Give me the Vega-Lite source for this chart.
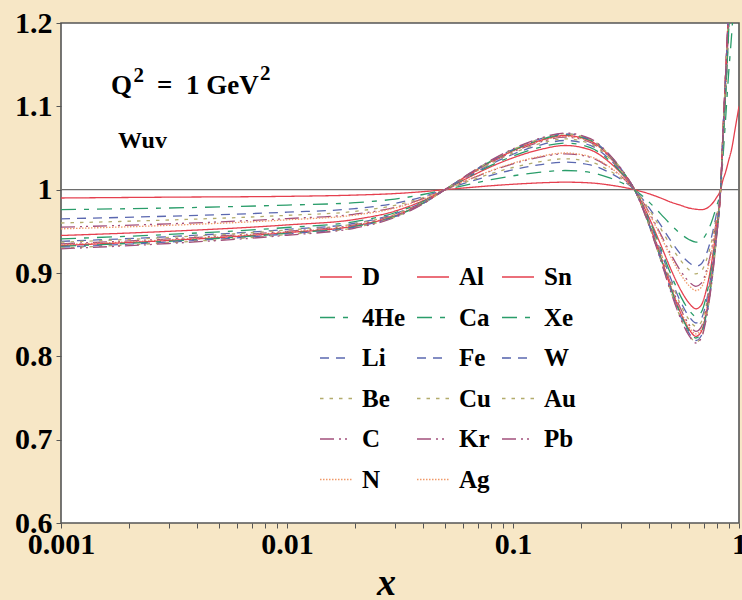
{
  "$schema": "https://vega.github.io/schema/vega-lite/v6.json",
  "width": 678,
  "height": 500,
  "autosize": {"type": "none"},
  "padding": {"left": 61, "top": 23, "right": 3, "bottom": 77},
  "background": "#F7E7C6",
  "config": {
    "view": {"fill": "white", "stroke": "#555555", "strokeWidth": 1.6},
    "legend": {
      "symbolType": "stroke",
      "symbolSize": 1024,
      "symbolStrokeWidth": 1.6,
      "labelFont": "Times New Roman, DejaVu Serif",
      "labelFontSize": 25,
      "labelFontWeight": "bold",
      "labelColor": "black",
      "labelOffset": 9,
      "rowPadding": 10.5,
      "columnPadding": 7,
      "padding": 0
    }
  },
  "datasets": {
    "curves": [
      {"n":"D","x":0.001,"y":0.990},{"n":"D","x":0.003,"y":0.991},{"n":"D","x":0.01,"y":0.992},{"n":"D","x":0.02,"y":0.9935},{"n":"D","x":0.03,"y":0.9953},{"n":"D","x":0.04,"y":0.9976},{"n":"D","x":0.05,"y":1},
      {"n":"D","x":0.065,"y":1.0027},{"n":"D","x":0.08,"y":1.0047},{"n":"D","x":0.1,"y":1.0065},{"n":"D","x":0.13,"y":1.0081},{"n":"D","x":0.17,"y":1.009},{"n":"D","x":0.22,"y":1.0081},{"n":"D","x":0.27,"y":1.0054},{"n":"D","x":0.31,"y":1.0027},{"n":"D","x":0.345,"y":1},
      {"n":"D","x":0.39,"y":0.996},{"n":"D","x":0.45,"y":0.990},{"n":"D","x":0.5,"y":0.985},{"n":"D","x":0.555,"y":0.981},{"n":"D","x":0.6,"y":0.978},{"n":"D","x":0.645,"y":0.9765},{"n":"D","x":0.68,"y":0.976},{"n":"D","x":0.717,"y":0.9775},{"n":"D","x":0.754,"y":0.982},{"n":"D","x":0.793,"y":0.990},{"n":"D","x":0.829,"y":1},
      {"n":"D","x":0.85,"y":1.012},{"n":"D","x":0.87,"y":1.02},{"n":"D","x":0.9,"y":1.035},{"n":"D","x":0.93,"y":1.05},{"n":"D","x":0.96,"y":1.072},{"n":"D","x":1.0,"y":1.10},

      {"n":"4He","x":0.001,"y":0.976},{"n":"4He","x":0.003,"y":0.978},{"n":"4He","x":0.01,"y":0.9815},{"n":"4He","x":0.02,"y":0.9844},{"n":"4He","x":0.03,"y":0.9887},{"n":"4He","x":0.04,"y":0.9942},{"n":"4He","x":0.05,"y":1},
      {"n":"4He","x":0.065,"y":1.0069},{"n":"4He","x":0.08,"y":1.012},{"n":"4He","x":0.1,"y":1.0166},{"n":"4He","x":0.13,"y":1.0207},{"n":"4He","x":0.17,"y":1.023},{"n":"4He","x":0.22,"y":1.0207},{"n":"4He","x":0.27,"y":1.0138},{"n":"4He","x":0.31,"y":1.0069},{"n":"4He","x":0.345,"y":1},
      {"n":"4He","x":0.39,"y":0.988},{"n":"4He","x":0.45,"y":0.971},{"n":"4He","x":0.5,"y":0.9578},{"n":"4He","x":0.555,"y":0.9465},{"n":"4He","x":0.6,"y":0.9402},{"n":"4He","x":0.645,"y":0.937},{"n":"4He","x":0.68,"y":0.9389},{"n":"4He","x":0.717,"y":0.9471},{"n":"4He","x":0.754,"y":0.9603},{"n":"4He","x":0.793,"y":0.9792},{"n":"4He","x":0.829,"y":1},
      {"n":"4He","x":0.85,"y":1.04},{"n":"4He","x":0.87,"y":1.08},{"n":"4He","x":0.9,"y":1.14},{"n":"4He","x":0.93,"y":1.19},{"n":"4He","x":0.96,"y":1.25},

      {"n":"Li","x":0.001,"y":0.965},{"n":"Li","x":0.003,"y":0.9682},{"n":"Li","x":0.01,"y":0.973},{"n":"Li","x":0.02,"y":0.9773},{"n":"Li","x":0.03,"y":0.9836},{"n":"Li","x":0.04,"y":0.9916},{"n":"Li","x":0.05,"y":1},
      {"n":"Li","x":0.065,"y":1.0099},{"n":"Li","x":0.08,"y":1.0172},{"n":"Li","x":0.1,"y":1.0238},{"n":"Li","x":0.13,"y":1.0297},{"n":"Li","x":0.17,"y":1.033},{"n":"Li","x":0.22,"y":1.0297},{"n":"Li","x":0.27,"y":1.0198},{"n":"Li","x":0.31,"y":1.0099},{"n":"Li","x":0.345,"y":1},
      {"n":"Li","x":0.39,"y":0.9825},{"n":"Li","x":0.45,"y":0.9577},{"n":"Li","x":0.5,"y":0.9384},{"n":"Li","x":0.555,"y":0.9218},{"n":"Li","x":0.6,"y":0.9126},{"n":"Li","x":0.645,"y":0.908},{"n":"Li","x":0.68,"y":0.9108},{"n":"Li","x":0.717,"y":0.9227},{"n":"Li","x":0.754,"y":0.942},{"n":"Li","x":0.793,"y":0.9696},{"n":"Li","x":0.829,"y":1},
      {"n":"Li","x":0.85,"y":1.06},{"n":"Li","x":0.87,"y":1.11},{"n":"Li","x":0.9,"y":1.20},{"n":"Li","x":0.93,"y":1.29},

      {"n":"Be","x":0.001,"y":0.960},{"n":"Be","x":0.003,"y":0.9636},{"n":"Be","x":0.01,"y":0.9692},{"n":"Be","x":0.02,"y":0.974},{"n":"Be","x":0.03,"y":0.9812},{"n":"Be","x":0.04,"y":0.9904},{"n":"Be","x":0.05,"y":1},
      {"n":"Be","x":0.065,"y":1.0111},{"n":"Be","x":0.08,"y":1.0192},{"n":"Be","x":0.1,"y":1.0266},{"n":"Be","x":0.13,"y":1.0333},{"n":"Be","x":0.17,"y":1.037},{"n":"Be","x":0.22,"y":1.0333},{"n":"Be","x":0.27,"y":1.0222},{"n":"Be","x":0.31,"y":1.0111},{"n":"Be","x":0.345,"y":1},
      {"n":"Be","x":0.39,"y":0.9808},{"n":"Be","x":0.45,"y":0.9535},{"n":"Be","x":0.5,"y":0.9323},{"n":"Be","x":0.555,"y":0.9142},{"n":"Be","x":0.6,"y":0.904},{"n":"Be","x":0.645,"y":0.899},{"n":"Be","x":0.68,"y":0.902},{"n":"Be","x":0.717,"y":0.9152},{"n":"Be","x":0.754,"y":0.9364},{"n":"Be","x":0.793,"y":0.9667},{"n":"Be","x":0.829,"y":1},
      {"n":"Be","x":0.85,"y":1.06},{"n":"Be","x":0.87,"y":1.11},{"n":"Be","x":0.9,"y":1.20},{"n":"Be","x":0.93,"y":1.29},

      {"n":"C","x":0.001,"y":0.955},{"n":"C","x":0.003,"y":0.959},{"n":"C","x":0.01,"y":0.9653},{"n":"C","x":0.02,"y":0.9707},{"n":"C","x":0.03,"y":0.9788},{"n":"C","x":0.04,"y":0.9892},{"n":"C","x":0.05,"y":1},
      {"n":"C","x":0.065,"y":1.0129},{"n":"C","x":0.08,"y":1.0224},{"n":"C","x":0.1,"y":1.031},{"n":"C","x":0.13,"y":1.0387},{"n":"C","x":0.17,"y":1.043},{"n":"C","x":0.22,"y":1.0387},{"n":"C","x":0.27,"y":1.0258},{"n":"C","x":0.31,"y":1.0129},{"n":"C","x":0.345,"y":1},
      {"n":"C","x":0.39,"y":0.978},{"n":"C","x":0.45,"y":0.9466},{"n":"C","x":0.5,"y":0.9223},{"n":"C","x":0.555,"y":0.9014},{"n":"C","x":0.6,"y":0.8898},{"n":"C","x":0.645,"y":0.884},{"n":"C","x":0.68,"y":0.8875},{"n":"C","x":0.717,"y":0.9026},{"n":"C","x":0.754,"y":0.9269},{"n":"C","x":0.793,"y":0.9617},{"n":"C","x":0.829,"y":1},
      {"n":"C","x":0.85,"y":1.06},{"n":"C","x":0.87,"y":1.11},{"n":"C","x":0.9,"y":1.20},{"n":"C","x":0.93,"y":1.29},

      {"n":"N","x":0.001,"y":0.953},{"n":"N","x":0.003,"y":0.9572},{"n":"N","x":0.01,"y":0.9638},{"n":"N","x":0.02,"y":0.9695},{"n":"N","x":0.03,"y":0.9779},{"n":"N","x":0.04,"y":0.9887},{"n":"N","x":0.05,"y":1},
      {"n":"N","x":0.065,"y":1.0132},{"n":"N","x":0.08,"y":1.0229},{"n":"N","x":0.1,"y":1.0317},{"n":"N","x":0.13,"y":1.0396},{"n":"N","x":0.17,"y":1.044},{"n":"N","x":0.22,"y":1.0396},{"n":"N","x":0.27,"y":1.0264},{"n":"N","x":0.31,"y":1.0132},{"n":"N","x":0.345,"y":1},
      {"n":"N","x":0.39,"y":0.977},{"n":"N","x":0.45,"y":0.9443},{"n":"N","x":0.5,"y":0.9189},{"n":"N","x":0.555,"y":0.8972},{"n":"N","x":0.6,"y":0.8851},{"n":"N","x":0.645,"y":0.879},{"n":"N","x":0.68,"y":0.8826},{"n":"N","x":0.717,"y":0.8984},{"n":"N","x":0.754,"y":0.9238},{"n":"N","x":0.793,"y":0.9601},{"n":"N","x":0.829,"y":1},
      {"n":"N","x":0.85,"y":1.06},{"n":"N","x":0.87,"y":1.11},{"n":"N","x":0.9,"y":1.20},{"n":"N","x":0.93,"y":1.29},

      {"n":"Al","x":0.001,"y":0.945},{"n":"Al","x":0.003,"y":0.95},{"n":"Al","x":0.01,"y":0.9577},{"n":"Al","x":0.02,"y":0.9643},{"n":"Al","x":0.03,"y":0.9742},{"n":"Al","x":0.04,"y":0.9868},{"n":"Al","x":0.05,"y":1},
      {"n":"Al","x":0.065,"y":1.0159},{"n":"Al","x":0.08,"y":1.0276},{"n":"Al","x":0.1,"y":1.0382},{"n":"Al","x":0.13,"y":1.0477},{"n":"Al","x":0.17,"y":1.053},{"n":"Al","x":0.22,"y":1.0477},{"n":"Al","x":0.27,"y":1.0318},{"n":"Al","x":0.31,"y":1.0159},{"n":"Al","x":0.345,"y":1},
      {"n":"Al","x":0.39,"y":0.9728},{"n":"Al","x":0.45,"y":0.9342},{"n":"Al","x":0.5,"y":0.9042},{"n":"Al","x":0.555,"y":0.8785},{"n":"Al","x":0.6,"y":0.8642},{"n":"Al","x":0.645,"y":0.857},{"n":"Al","x":0.68,"y":0.8613},{"n":"Al","x":0.717,"y":0.8799},{"n":"Al","x":0.754,"y":0.9099},{"n":"Al","x":0.793,"y":0.9528},{"n":"Al","x":0.829,"y":1},
      {"n":"Al","x":0.85,"y":1.07},{"n":"Al","x":0.87,"y":1.13},{"n":"Al","x":0.9,"y":1.22},{"n":"Al","x":0.93,"y":1.32},

      {"n":"Ca","x":0.001,"y":0.941},{"n":"Ca","x":0.003,"y":0.9463},{"n":"Ca","x":0.01,"y":0.9546},{"n":"Ca","x":0.02,"y":0.9617},{"n":"Ca","x":0.03,"y":0.9723},{"n":"Ca","x":0.04,"y":0.9858},{"n":"Ca","x":0.05,"y":1},
      {"n":"Ca","x":0.065,"y":1.0168},{"n":"Ca","x":0.08,"y":1.0291},{"n":"Ca","x":0.1,"y":1.0403},{"n":"Ca","x":0.13,"y":1.0504},{"n":"Ca","x":0.17,"y":1.056},{"n":"Ca","x":0.22,"y":1.0504},{"n":"Ca","x":0.27,"y":1.0336},{"n":"Ca","x":0.31,"y":1.0168},{"n":"Ca","x":0.345,"y":1},
      {"n":"Ca","x":0.39,"y":0.9711},{"n":"Ca","x":0.45,"y":0.9301},{"n":"Ca","x":0.5,"y":0.8982},{"n":"Ca","x":0.555,"y":0.8708},{"n":"Ca","x":0.6,"y":0.8556},{"n":"Ca","x":0.645,"y":0.848},{"n":"Ca","x":0.68,"y":0.8526},{"n":"Ca","x":0.717,"y":0.8723},{"n":"Ca","x":0.754,"y":0.9042},{"n":"Ca","x":0.793,"y":0.9498},{"n":"Ca","x":0.829,"y":1},
      {"n":"Ca","x":0.85,"y":1.06},{"n":"Ca","x":0.87,"y":1.11},{"n":"Ca","x":0.9,"y":1.19},{"n":"Ca","x":0.93,"y":1.28},

      {"n":"Fe","x":0.001,"y":0.938},{"n":"Fe","x":0.003,"y":0.9436},{"n":"Fe","x":0.01,"y":0.9523},{"n":"Fe","x":0.02,"y":0.9597},{"n":"Fe","x":0.03,"y":0.9709},{"n":"Fe","x":0.04,"y":0.9851},{"n":"Fe","x":0.05,"y":1},
      {"n":"Fe","x":0.065,"y":1.0177},{"n":"Fe","x":0.08,"y":1.0307},{"n":"Fe","x":0.1,"y":1.0425},{"n":"Fe","x":0.13,"y":1.0531},{"n":"Fe","x":0.17,"y":1.059},{"n":"Fe","x":0.22,"y":1.0531},{"n":"Fe","x":0.27,"y":1.0354},{"n":"Fe","x":0.31,"y":1.0177},{"n":"Fe","x":0.345,"y":1},
      {"n":"Fe","x":0.39,"y":0.9696},{"n":"Fe","x":0.45,"y":0.9264},{"n":"Fe","x":0.5,"y":0.8928},{"n":"Fe","x":0.555,"y":0.864},{"n":"Fe","x":0.6,"y":0.848},{"n":"Fe","x":0.645,"y":0.840},{"n":"Fe","x":0.68,"y":0.8448},{"n":"Fe","x":0.717,"y":0.8656},{"n":"Fe","x":0.754,"y":0.8992},{"n":"Fe","x":0.793,"y":0.9472},{"n":"Fe","x":0.829,"y":1},
      {"n":"Fe","x":0.85,"y":1.07},{"n":"Fe","x":0.87,"y":1.13},{"n":"Fe","x":0.9,"y":1.22},{"n":"Fe","x":0.93,"y":1.32},

      {"n":"Cu","x":0.001,"y":0.937},{"n":"Cu","x":0.003,"y":0.9427},{"n":"Cu","x":0.01,"y":0.9515},{"n":"Cu","x":0.02,"y":0.9591},{"n":"Cu","x":0.03,"y":0.9704},{"n":"Cu","x":0.04,"y":0.9849},{"n":"Cu","x":0.05,"y":1},
      {"n":"Cu","x":0.065,"y":1.0183},{"n":"Cu","x":0.08,"y":1.0317},{"n":"Cu","x":0.1,"y":1.0439},{"n":"Cu","x":0.13,"y":1.0549},{"n":"Cu","x":0.17,"y":1.061},{"n":"Cu","x":0.22,"y":1.0549},{"n":"Cu","x":0.27,"y":1.0366},{"n":"Cu","x":0.31,"y":1.0183},{"n":"Cu","x":0.345,"y":1},
      {"n":"Cu","x":0.39,"y":0.9688},{"n":"Cu","x":0.45,"y":0.9246},{"n":"Cu","x":0.5,"y":0.8901},{"n":"Cu","x":0.555,"y":0.8606},{"n":"Cu","x":0.6,"y":0.8442},{"n":"Cu","x":0.645,"y":0.836},{"n":"Cu","x":0.68,"y":0.8409},{"n":"Cu","x":0.717,"y":0.8622},{"n":"Cu","x":0.754,"y":0.8967},{"n":"Cu","x":0.793,"y":0.9459},{"n":"Cu","x":0.829,"y":1},
      {"n":"Cu","x":0.85,"y":1.07},{"n":"Cu","x":0.87,"y":1.13},{"n":"Cu","x":0.9,"y":1.22},{"n":"Cu","x":0.93,"y":1.32},

      {"n":"Kr","x":0.001,"y":0.935},{"n":"Kr","x":0.003,"y":0.9409},{"n":"Kr","x":0.01,"y":0.95},{"n":"Kr","x":0.02,"y":0.9578},{"n":"Kr","x":0.03,"y":0.9695},{"n":"Kr","x":0.04,"y":0.9844},{"n":"Kr","x":0.05,"y":1},
      {"n":"Kr","x":0.065,"y":1.0189},{"n":"Kr","x":0.08,"y":1.0328},{"n":"Kr","x":0.1,"y":1.0454},{"n":"Kr","x":0.13,"y":1.0567},{"n":"Kr","x":0.17,"y":1.063},{"n":"Kr","x":0.22,"y":1.0567},{"n":"Kr","x":0.27,"y":1.0378},{"n":"Kr","x":0.31,"y":1.0189},{"n":"Kr","x":0.345,"y":1},
      {"n":"Kr","x":0.39,"y":0.9677},{"n":"Kr","x":0.45,"y":0.9218},{"n":"Kr","x":0.5,"y":0.8861},{"n":"Kr","x":0.555,"y":0.8555},{"n":"Kr","x":0.6,"y":0.8385},{"n":"Kr","x":0.645,"y":0.830},{"n":"Kr","x":0.68,"y":0.8351},{"n":"Kr","x":0.717,"y":0.8572},{"n":"Kr","x":0.754,"y":0.8929},{"n":"Kr","x":0.793,"y":0.9439},{"n":"Kr","x":0.829,"y":1},
      {"n":"Kr","x":0.85,"y":1.07},{"n":"Kr","x":0.87,"y":1.13},{"n":"Kr","x":0.9,"y":1.22},{"n":"Kr","x":0.93,"y":1.32},

      {"n":"Ag","x":0.001,"y":0.934},{"n":"Ag","x":0.003,"y":0.9399},{"n":"Ag","x":0.01,"y":0.9492},{"n":"Ag","x":0.02,"y":0.9571},{"n":"Ag","x":0.03,"y":0.969},{"n":"Ag","x":0.04,"y":0.9842},{"n":"Ag","x":0.05,"y":1},
      {"n":"Ag","x":0.065,"y":1.0192},{"n":"Ag","x":0.08,"y":1.0333},{"n":"Ag","x":0.1,"y":1.0461},{"n":"Ag","x":0.13,"y":1.0576},{"n":"Ag","x":0.17,"y":1.064},{"n":"Ag","x":0.22,"y":1.0576},{"n":"Ag","x":0.27,"y":1.0384},{"n":"Ag","x":0.31,"y":1.0192},{"n":"Ag","x":0.345,"y":1},
      {"n":"Ag","x":0.39,"y":0.9671},{"n":"Ag","x":0.45,"y":0.9204},{"n":"Ag","x":0.5,"y":0.8841},{"n":"Ag","x":0.555,"y":0.853},{"n":"Ag","x":0.6,"y":0.8357},{"n":"Ag","x":0.645,"y":0.827},{"n":"Ag","x":0.68,"y":0.8322},{"n":"Ag","x":0.717,"y":0.8547},{"n":"Ag","x":0.754,"y":0.891},{"n":"Ag","x":0.793,"y":0.9429},{"n":"Ag","x":0.829,"y":1},
      {"n":"Ag","x":0.85,"y":1.07},{"n":"Ag","x":0.87,"y":1.13},{"n":"Ag","x":0.9,"y":1.22},{"n":"Ag","x":0.93,"y":1.32},

      {"n":"Sn","x":0.001,"y":0.933},{"n":"Sn","x":0.003,"y":0.939},{"n":"Sn","x":0.01,"y":0.9484},{"n":"Sn","x":0.02,"y":0.9565},{"n":"Sn","x":0.03,"y":0.9685},{"n":"Sn","x":0.04,"y":0.9839},{"n":"Sn","x":0.05,"y":1},
      {"n":"Sn","x":0.065,"y":1.0195},{"n":"Sn","x":0.08,"y":1.0338},{"n":"Sn","x":0.1,"y":1.0468},{"n":"Sn","x":0.13,"y":1.0585},{"n":"Sn","x":0.17,"y":1.065},{"n":"Sn","x":0.22,"y":1.0585},{"n":"Sn","x":0.27,"y":1.039},{"n":"Sn","x":0.31,"y":1.0195},{"n":"Sn","x":0.345,"y":1},
      {"n":"Sn","x":0.39,"y":0.9666},{"n":"Sn","x":0.45,"y":0.919},{"n":"Sn","x":0.5,"y":0.8821},{"n":"Sn","x":0.555,"y":0.8504},{"n":"Sn","x":0.6,"y":0.8328},{"n":"Sn","x":0.645,"y":0.824},{"n":"Sn","x":0.68,"y":0.8293},{"n":"Sn","x":0.717,"y":0.8522},{"n":"Sn","x":0.754,"y":0.8891},{"n":"Sn","x":0.793,"y":0.9419},{"n":"Sn","x":0.829,"y":1},
      {"n":"Sn","x":0.85,"y":1.07},{"n":"Sn","x":0.87,"y":1.13},{"n":"Sn","x":0.9,"y":1.22},{"n":"Sn","x":0.93,"y":1.32},

      {"n":"Xe","x":0.001,"y":0.932},{"n":"Xe","x":0.003,"y":0.9381},{"n":"Xe","x":0.01,"y":0.9476},{"n":"Xe","x":0.02,"y":0.9558},{"n":"Xe","x":0.03,"y":0.968},{"n":"Xe","x":0.04,"y":0.9837},{"n":"Xe","x":0.05,"y":1},
      {"n":"Xe","x":0.065,"y":1.0198},{"n":"Xe","x":0.08,"y":1.0343},{"n":"Xe","x":0.1,"y":1.0475},{"n":"Xe","x":0.13,"y":1.0594},{"n":"Xe","x":0.17,"y":1.066},{"n":"Xe","x":0.22,"y":1.0594},{"n":"Xe","x":0.27,"y":1.0396},{"n":"Xe","x":0.31,"y":1.0198},{"n":"Xe","x":0.345,"y":1},
      {"n":"Xe","x":0.39,"y":0.9662},{"n":"Xe","x":0.45,"y":0.9181},{"n":"Xe","x":0.5,"y":0.8807},{"n":"Xe","x":0.555,"y":0.8487},{"n":"Xe","x":0.6,"y":0.8309},{"n":"Xe","x":0.645,"y":0.822},{"n":"Xe","x":0.68,"y":0.8273},{"n":"Xe","x":0.717,"y":0.8505},{"n":"Xe","x":0.754,"y":0.8879},{"n":"Xe","x":0.793,"y":0.9413},{"n":"Xe","x":0.829,"y":1},
      {"n":"Xe","x":0.85,"y":1.06},{"n":"Xe","x":0.87,"y":1.11},{"n":"Xe","x":0.9,"y":1.19},{"n":"Xe","x":0.93,"y":1.28},

      {"n":"W","x":0.001,"y":0.931},{"n":"W","x":0.003,"y":0.9372},{"n":"W","x":0.01,"y":0.9469},{"n":"W","x":0.02,"y":0.9552},{"n":"W","x":0.03,"y":0.9676},{"n":"W","x":0.04,"y":0.9834},{"n":"W","x":0.05,"y":1},
      {"n":"W","x":0.065,"y":1.0201},{"n":"W","x":0.08,"y":1.0348},{"n":"W","x":0.1,"y":1.0482},{"n":"W","x":0.13,"y":1.0603},{"n":"W","x":0.17,"y":1.067},{"n":"W","x":0.22,"y":1.0603},{"n":"W","x":0.27,"y":1.0402},{"n":"W","x":0.31,"y":1.0201},{"n":"W","x":0.345,"y":1},
      {"n":"W","x":0.39,"y":0.9656},{"n":"W","x":0.45,"y":0.9167},{"n":"W","x":0.5,"y":0.8787},{"n":"W","x":0.555,"y":0.8462},{"n":"W","x":0.6,"y":0.8281},{"n":"W","x":0.645,"y":0.819},{"n":"W","x":0.68,"y":0.8244},{"n":"W","x":0.717,"y":0.848},{"n":"W","x":0.754,"y":0.886},{"n":"W","x":0.793,"y":0.9403},{"n":"W","x":0.829,"y":1},
      {"n":"W","x":0.85,"y":1.07},{"n":"W","x":0.87,"y":1.13},{"n":"W","x":0.9,"y":1.22},{"n":"W","x":0.93,"y":1.32},

      {"n":"Au","x":0.001,"y":0.930},{"n":"Au","x":0.003,"y":0.9363},{"n":"Au","x":0.01,"y":0.9461},{"n":"Au","x":0.02,"y":0.9545},{"n":"Au","x":0.03,"y":0.9671},{"n":"Au","x":0.04,"y":0.9832},{"n":"Au","x":0.05,"y":1},
      {"n":"Au","x":0.065,"y":1.0201},{"n":"Au","x":0.08,"y":1.0348},{"n":"Au","x":0.1,"y":1.0482},{"n":"Au","x":0.13,"y":1.0603},{"n":"Au","x":0.17,"y":1.067},{"n":"Au","x":0.22,"y":1.0603},{"n":"Au","x":0.27,"y":1.0402},{"n":"Au","x":0.31,"y":1.0201},{"n":"Au","x":0.345,"y":1},
      {"n":"Au","x":0.39,"y":0.9652},{"n":"Au","x":0.45,"y":0.9158},{"n":"Au","x":0.5,"y":0.8774},{"n":"Au","x":0.555,"y":0.8445},{"n":"Au","x":0.6,"y":0.8262},{"n":"Au","x":0.645,"y":0.817},{"n":"Au","x":0.68,"y":0.8225},{"n":"Au","x":0.717,"y":0.8463},{"n":"Au","x":0.754,"y":0.8847},{"n":"Au","x":0.793,"y":0.9396},{"n":"Au","x":0.829,"y":1},
      {"n":"Au","x":0.85,"y":1.07},{"n":"Au","x":0.87,"y":1.13},{"n":"Au","x":0.9,"y":1.22},{"n":"Au","x":0.93,"y":1.32},

      {"n":"Pb","x":0.001,"y":0.929},{"n":"Pb","x":0.003,"y":0.9354},{"n":"Pb","x":0.01,"y":0.9453},{"n":"Pb","x":0.02,"y":0.9539},{"n":"Pb","x":0.03,"y":0.9666},{"n":"Pb","x":0.04,"y":0.983},{"n":"Pb","x":0.05,"y":1},
      {"n":"Pb","x":0.065,"y":1.0204},{"n":"Pb","x":0.08,"y":1.0354},{"n":"Pb","x":0.1,"y":1.049},{"n":"Pb","x":0.13,"y":1.0612},{"n":"Pb","x":0.17,"y":1.068},{"n":"Pb","x":0.22,"y":1.0612},{"n":"Pb","x":0.27,"y":1.0408},{"n":"Pb","x":0.31,"y":1.0204},{"n":"Pb","x":0.345,"y":1},
      {"n":"Pb","x":0.39,"y":0.965},{"n":"Pb","x":0.45,"y":0.9154},{"n":"Pb","x":0.5,"y":0.8767},{"n":"Pb","x":0.555,"y":0.8436},{"n":"Pb","x":0.6,"y":0.8252},{"n":"Pb","x":0.645,"y":0.816},{"n":"Pb","x":0.68,"y":0.8215},{"n":"Pb","x":0.717,"y":0.8454},{"n":"Pb","x":0.754,"y":0.8841},{"n":"Pb","x":0.793,"y":0.9393},{"n":"Pb","x":0.829,"y":1},
      {"n":"Pb","x":0.85,"y":1.07},{"n":"Pb","x":0.87,"y":1.13},{"n":"Pb","x":0.9,"y":1.22},{"n":"Pb","x":0.93,"y":1.32}
    ]
  },
  "encoding": {
    "x": {
      "field": "x",
      "type": "quantitative",
      "scale": {"type": "log", "domain": [0.001, 1], "nice": false},
      "axis": {
        "title": "x",
        "values": [0.001,0.002,0.003,0.004,0.005,0.006,0.007,0.008,0.009,0.01,0.02,0.03,0.04,0.05,0.06,0.07,0.08,0.09,0.1,0.2,0.3,0.4,0.5,0.6,0.7,0.8,0.9,1],
        "format": "~g",
        "labelExpr": "indexof([0.001, 0.01, 0.1, 1], datum.value) >= 0 ? datum.label : ''",
        "labelFont": "Times New Roman, DejaVu Serif",
        "labelFontSize": 30,
        "labelFontWeight": "bold",
        "labelColor": "black",
        "labelOverlap": false,
        "labelFlush": false,
        "labelPadding": 1,
        "tickSize": 5,
        "tickColor": "#555555",
        "domain": false,
        "grid": false,
        "titleFont": "Times New Roman, DejaVu Serif",
        "titleFontSize": 38,
        "titleFontStyle": "italic",
        "titleFontWeight": "bold",
        "titleColor": "black",
        "titleX": 325,
        "titleY": 71,
        "titleAlign": "center",
        "titleBaseline": "alphabetic"
      }
    },
    "y": {
      "field": "y",
      "type": "quantitative",
      "scale": {"domain": [0.6, 1.2], "nice": false, "zero": false},
      "axis": {
        "title": null,
        "values": [0.6, 0.7, 0.8, 0.9, 1, 1.1, 1.2],
        "format": "~g",
        "labelFont": "Times New Roman, DejaVu Serif",
        "labelFontSize": 30,
        "labelFontWeight": "bold",
        "labelColor": "black",
        "labelFlush": false,
        "labelOverlap": false,
        "labelPadding": 4,
        "tickSize": 5,
        "tickColor": "#555555",
        "domain": false,
        "grid": false
      }
    }
  },
  "layer": [
    {
      "data": {"values": [{"x": 0.001, "x2": 1, "y": 1}]},
      "mark": {"type": "rule", "color": "#6e6e6e", "strokeWidth": 1.4},
      "encoding": {"x2": {"field": "x2"}}
    },
    {
      "data": {"name": "curves"},
      "mark": {"type": "line", "clip": true, "strokeWidth": 1.3, "interpolate": "monotone"},
      "encoding": {
        "color": {
          "field": "n",
          "type": "nominal",
          "scale": {
            "domain": ["D","4He","Li","Be","C","N","Al","Ca","Fe","Cu","Kr","Ag","Sn","Xe","W","Au","Pb"],
            "range": ["#E5404F","#2A9D6A","#5B68B0","#B3AC6C","#A3507C","#F09A6A","#E5404F","#2A9D6A","#5B68B0","#B3AC6C","#A3507C","#F09A6A","#E5404F","#2A9D6A","#5B68B0","#B3AC6C","#A3507C"]
          },
          "legend": {"orient": "none", "legendX": 258, "legendY": 237, "columns": 3, "title": null}
        },
        "strokeDash": {
          "field": "n",
          "type": "nominal",
          "scale": {
            "domain": ["D","4He","Li","Be","C","N","Al","Ca","Fe","Cu","Kr","Ag","Sn","Xe","W","Au","Pb"],
            "range": [[1,0],[15,8,5,8],[9,7],[3.5,6],[14,5,2,4,2,5],[1.5,1.5],[1,0],[15,8,5,8],[9,7],[3.5,6],[14,5,2,4,2,5],[1.5,1.5],[1,0],[15,8,5,8],[9,7],[3.5,6],[14,5,2,4,2,5]]
          },
          "legend": {"orient": "none", "legendX": 258, "legendY": 237, "columns": 3, "title": null}
        }
      }
    },
    {
      "data": {"values": [
        {"t": "Q", "x": 0.001664, "y": 1.1148},
        {"t": "=", "x": 0.002659, "y": 1.1148},
        {"t": "1 GeV", "x": 0.003573, "y": 1.1148}
      ]},
      "mark": {"type": "text", "align": "left", "baseline": "alphabetic", "font": "Times New Roman, DejaVu Serif", "fontWeight": "bold", "fontSize": 27, "color": "black"},
      "encoding": {"text": {"field": "t"}}
    },
    {
      "data": {"values": [
        {"t": "2", "x": 0.002092, "y": 1.1292},
        {"t": "2", "x": 0.007590, "y": 1.1316}
      ]},
      "mark": {"type": "text", "align": "left", "baseline": "alphabetic", "font": "Times New Roman, DejaVu Serif", "fontWeight": "bold", "fontSize": 21, "color": "black"},
      "encoding": {"text": {"field": "t"}}
    },
    {
      "data": {"values": [{"t": "Wuv", "x": 0.001788, "y": 1.05}]},
      "mark": {"type": "text", "align": "left", "baseline": "alphabetic", "font": "Times New Roman, DejaVu Serif", "fontWeight": "bold", "fontSize": 24, "color": "black"},
      "encoding": {"text": {"field": "t"}}
    }
  ]
}
